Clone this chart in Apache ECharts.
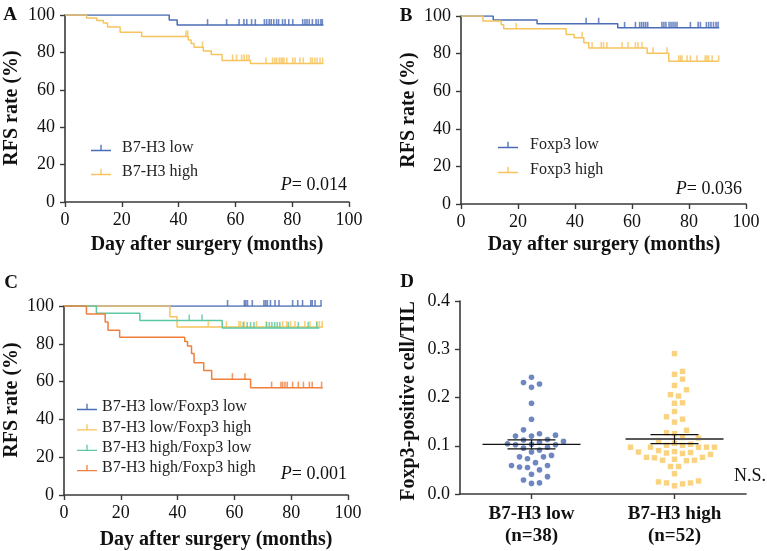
<!DOCTYPE html>
<html><head><meta charset="utf-8">
<script src="https://cdn.jsdelivr.net/npm/echarts@6/dist/echarts.min.js"></script>
<style>html,body{margin:0;padding:0;background:#fff}#c{width:767px;height:551px}</style>
</head><body><div id="c"></div>
<script>
// ---------------- DATA ----------------
const KM_TICKS = [0, 20, 40, 60, 80, 100];
const D_TICKS = [0.0, 0.1, 0.2, 0.3, 0.4];

// Panel A
const A_low_name = 'B7-H3 low', A_high_name = 'B7-H3 high';
const A_low_steps = [[0,100],[36.7,97.3],[39.5,94.6],[91.0,94.6]];
const A_low_cens = [50.2,56.9,61.3,63.0,64.0,65.7,67.0,70.2,71.0,71.9,72.6,73.5,74.5,75.2,76.6,77.5,78.8,80.2,83.7,84.5,85.2,86.0,87.1,88.4,89.2,90.1,90.6];
const A_high_steps = [[0,100],[7.6,98.4],[11.2,97.0],[13.5,95.7],[15.0,93.6],[19.4,90.8],[27.0,88.5],[43.4,86.6],[44.4,84.7],[45.4,82.7],[48.7,80.8],[51.5,78.9],[55.3,75.7],[65.3,74.1],[91.0,74.1]];
const A_high_cens = [42.6,43.2,48.4,59.0,60.4,62.2,63.1,64.0,64.8,70.8,73.1,73.9,74.5,75.4,76.1,76.6,77.1,78.1,80.2,81.0,82.7,83.9,86.5,87.1,88.0,88.8,89.8,90.7];
const A_p = '= 0.014';

// Panel B
const B_low_name = 'Foxp3 low', B_high_name = 'Foxp3 high';
const B_low_steps = [[0,100],[11.3,97.9],[26.7,95.9],[55.0,93.7],[90.6,93.7]];
const B_low_cens = [43.9,48.3,57.4,61.2,62.7,63.4,64.1,64.8,65.5,70.5,71.2,71.9,73.0,73.7,74.4,75.1,75.8,80.5,83.2,84.0,86.1,86.9,87.7,88.6,89.5,90.2];
const B_high_steps = [[0,100],[7.7,97.4],[14.1,95.4],[15.0,93.2],[36.9,90.2],[39.7,88.4],[43.1,85.8],[44.8,83.0],[65.3,80.2],[72.9,75.9],[90.4,75.9]];
const B_high_cens = [19.4,42.5,46.0,49.2,50.0,51.2,56.5,58.6,61.2,62.1,63.5,67.4,72.3,76.4,77.0,77.5,79.3,80.5,82.8,85.7,86.3,86.9,88.1,90.4];
const B_p = '= 0.036';

// Panel C
const C_names = ['B7-H3 low/Foxp3 low','B7-H3 low/Foxp3 high','B7-H3 high/Foxp3 low','B7-H3 high/Foxp3 high'];
const C_ll_steps = [[0,100],[90.7,100]];
const C_ll_cens = [57.6,63.5,64.0,64.6,66.3,70.4,71.0,71.6,72.7,74.3,75.7,80.5,82.3,84.0,86.9,87.4,88.4,90.5];
const C_lh_steps = [[0,100],[37.3,94.3],[39.8,88.9],[91.2,88.9]];
const C_lh_cens = [50.8,57.2,61.6,62.2,63.5,67.8,71.3,77.0,78.4,79.8,81.3,84.8,86.6,89.0,89.9,90.9];
const C_hl_steps = [[0,100],[11.4,96.1],[26.7,92.3],[55.7,88.4],[89.9,88.4]];
const C_hl_cens = [44.1,48.6,63.1,64.5,65.7,66.9,71.3,72.3,73.2,74.2,75.1,76.0,79.0,82.5,86.0,89.0];
const C_hh_steps = [[0,100],[7.9,95.8],[14.5,91.6],[15.5,87.2],[19.6,83.4],[42.5,81.2],[43.5,78.8],[44.9,74.9],[45.8,70.0],[49.2,65.9],[52.0,61.3],[65.7,56.8],[91.1,56.8]];
const C_hh_cens = [59.3,63.7,73.1,76.4,77.0,77.8,78.6,80.5,82.5,84.3,86.4,87.4,90.7];
const C_p = '= 0.001';

// Panel D
const D_categories = ['B7-H3 low\n(n=38)', 'B7-H3 high\n(n=52)'];
const D_low = [0.242,0.228,0.221,0.231,0.188,0.155,0.133,0.125,0.120,0.120,0.122,0.107,0.104,0.102,0.113,0.112,0.102,0.103,0.109,0.095,0.097,0.091,0.087,0.077,0.077,0.080,0.073,0.065,0.059,0.059,0.056,0.050,0.055,0.041,0.036,0.029,0.022,0.023];
const D_high = [0.291,0.254,0.248,0.238,0.225,0.216,0.203,0.206,0.188,0.189,0.171,0.155,0.149,0.160,0.127,0.125,0.132,0.117,0.116,0.105,0.101,0.097,0.097,0.097,0.097,0.097,0.101,0.103,0.111,0.088,0.085,0.082,0.086,0.084,0.087,0.090,0.072,0.069,0.076,0.070,0.070,0.076,0.075,0.057,0.057,0.042,0.025,0.023,0.017,0.021,0.023,0.027];

// ---------------- STYLE ----------------
const SERIF = '"Liberation Serif", "Times New Roman", serif';
const AX = '#3a3a3a';
const BLUE = '#4b6cb7', YELLOW = '#f6c45c', GREEN = '#5ec8a0', ORANGE = '#f07f3c';
const DBLUE = '#4a69b1', DYELLOW = '#f9c861';
const ICON = 'path://M0,5L20,5L20,6.3L0,6.3Z M9.35,0L10.65,0L10.65,5L9.35,5Z';

function survAt(steps, t) {
  let s = steps[0][1];
  for (const p of steps) { if (p[0] <= t) s = p[1]; else break; }
  return s;
}
function km(name, steps, cens, color, gi) {
  return [
    {type:'line', name, xAxisIndex:gi, yAxisIndex:gi, data:steps, step:'end', symbol:'none', showSymbol:false,
     lineStyle:{color, width:1.5}, itemStyle:{color}, silent:true, z:3},
    {type:'scatter', name:name+' (censored)', xAxisIndex:gi, yAxisIndex:gi,
     data:cens.map(t => [t, survAt(steps, t)]), symbol:'rect', symbolSize:[1.6,6], symbolOffset:[0,-3],
     itemStyle:{color}, silent:true, z:4}
  ];
}
function axisCommon(gi) {
  return {gridIndex:gi, axisLine:{show:true, onZero:false, lineStyle:{color:AX, width:1.6}},
    axisTick:{show:true, inside:false, length:5, lineStyle:{color:AX, width:1.4}},
    splitLine:{show:false}};
}
function kmX(gi) {
  return Object.assign(axisCommon(gi), {type:'value', min:KM_TICKS[0], max:KM_TICKS[KM_TICKS.length-1],
    interval:KM_TICKS[1]-KM_TICKS[0],
    axisLabel:{fontFamily:SERIF, fontSize:18, color:'#111', margin:9, showMinLabel:true, showMaxLabel:true}});
}
function kmY(gi) {
  return Object.assign(axisCommon(gi), {type:'value', min:KM_TICKS[0], max:KM_TICKS[KM_TICKS.length-1],
    interval:KM_TICKS[1]-KM_TICKS[0],
    axisLabel:{fontFamily:SERIF, fontSize:18, color:'#111', margin:10, showMinLabel:true, showMaxLabel:true}});
}

// beeswarm layout (pixel-space greedy)
const D_GRID = {left:460, top:301, width:286, height:193};
const pxPerY = D_GRID.height / (D_TICKS[D_TICKS.length-1] - D_TICKS[0]);
const pxPerX = D_GRID.width / 2;
function swarm(vals, center) {
  const placed = [], out = [];
  const order = vals.map((v,i)=>i).sort((a,b)=>vals[a]-vals[b]);
  for (const i of order) {
    const py = vals[i]*pxPerY;
    let best = null;
    for (let k=0; k<60 && best===null; k++) {
      const c = k===0 ? [0] : [k*4, -k*4];
      for (const ox of c) {
        if (placed.every(p => Math.hypot(p.x-ox, p.y-py) >= 7.6)) { best = ox; break; }
      }
    }
    placed.push({x:best, y:py});
    out.push([center + best/pxPerX, vals[i]]);
  }
  return out;
}
function stats(v) {
  const n = v.length, m = v.reduce((a,b)=>a+b,0)/n;
  const sd = Math.sqrt(v.reduce((a,b)=>a+(b-m)*(b-m),0)/(n-1));
  return [m, sd/Math.sqrt(n)];
}
const sLow = stats(D_low), sHigh = stats(D_high);

const series = [
  ...km(A_low_name, A_low_steps, A_low_cens, BLUE, 0),
  ...km(A_high_name, A_high_steps, A_high_cens, YELLOW, 0),
  ...km(B_low_name, B_low_steps, B_low_cens, BLUE, 1),
  ...km(B_high_name, B_high_steps, B_high_cens, YELLOW, 1),
  ...km(C_names[0], C_ll_steps, C_ll_cens, BLUE, 2),
  ...km(C_names[1], C_lh_steps, C_lh_cens, YELLOW, 2),
  ...km(C_names[2], C_hl_steps, C_hl_cens, GREEN, 2),
  ...km(C_names[3], C_hh_steps, C_hh_cens, ORANGE, 2),
  {type:'scatter', name:'D low', xAxisIndex:4, yAxisIndex:3, data:swarm(D_low, 0), symbol:'circle', symbolSize:5.6,
   itemStyle:{color:DBLUE}, silent:true, z:3},
  {type:'scatter', name:'D high', xAxisIndex:4, yAxisIndex:3, data:swarm(D_high, 1), symbol:'rect', symbolSize:5.4,
   itemStyle:{color:DYELLOW}, silent:true, z:3},
  {type:'custom', name:'D mean', xAxisIndex:4, yAxisIndex:3, silent:true, z:5,
   data:[[0, sLow[0], sLow[1], 0], [1, sHigh[0], sHigh[1], 1]],
   renderItem:(params, api) => {
     const c = api.coord([api.value(0), api.value(1)]);
     const t = api.coord([api.value(0), api.value(1)+api.value(2)]);
     const b = api.coord([api.value(0), api.value(1)-api.value(2)]);
     const hi = api.value(3) === 1;
     const ms = {stroke: hi ? '#5a5a5a' : '#111', lineWidth: hi ? 2 : 1.3};
     const es = {stroke:'#111', lineWidth:1.2};
     return {type:'group', children:[
       {type:'line', shape:{x1:c[0]-49, y1:c[1], x2:c[0]+49, y2:c[1]}, style:ms},
       {type:'line', shape:{x1:c[0], y1:t[1], x2:c[0], y2:b[1]}, style:es},
       {type:'line', shape:{x1:c[0]-24, y1:t[1], x2:c[0]+24, y2:t[1]}, style:es},
       {type:'line', shape:{x1:c[0]-24, y1:b[1], x2:c[0]+24, y2:b[1]}, style:es}
     ]};
   }}
];

const legendBase = {orient:'vertical', itemWidth:20, itemHeight:6.3, icon:ICON, selectedMode:false, padding:0,
  itemStyle:{borderWidth:0}, inactiveColor:'#ccc'};
function legend(data, left, top, gap, pad) {
  return Object.assign({}, legendBase, {data, left, top, itemGap:gap,
    textStyle:{fontFamily:SERIF, fontSize:16, color:'#222', lineHeight:18, padding:[0,0,0,pad]}});
}

function txt(text, x, y, size, weight, opts) {
  return Object.assign({type:'text', x, y, silent:true,
    style:{text, fontFamily:SERIF, fontSize:size, fontWeight:weight, fill:'#111', align:'center', verticalAlign:'middle'}}, opts||{});
}
function rtxt(text, x, y, size, weight) {
  return {type:'text', x, y, rotation:Math.PI/2, silent:true,
    style:{text, fontFamily:SERIF, fontSize:size, fontWeight:weight, fill:'#111', align:'center', verticalAlign:'middle'}};
}
function ptxt(p, xr, y) {
  return {type:'text', x:xr, y, silent:true,
    style:{text:'{i|P}' + p, fontFamily:SERIF, fontSize:18, fill:'#111', align:'right', verticalAlign:'middle',
      rich:{i:{fontFamily:SERIF, fontSize:18, fontStyle:'italic', fill:'#111'}}}};
}

const option = {
  backgroundColor:'#fff',
  animation:false,
  grid:[
    {left:65, top:15, width:284, height:187, outerBoundsMode:'none'},
    {left:461, top:16, width:285, height:188, outerBoundsMode:'none'},
    {left:64, top:306, width:284, height:189, outerBoundsMode:'none'},
    Object.assign({outerBoundsMode:'none'}, D_GRID)
  ],
  xAxis:[kmX(0), kmX(1), kmX(2),
    Object.assign(axisCommon(3), {type:'category', data:D_categories,
      axisTick:{show:true, alignWithLabel:true, length:5, lineStyle:{color:AX, width:1.4}},
      axisLabel:{fontFamily:SERIF, fontSize:19, fontWeight:'bold', color:'#111', margin:9, lineHeight:22, interval:0}}),
    {type:'value', gridIndex:3, min:-0.5, max:1.5, show:false}
  ],
  yAxis:[kmY(0), kmY(1), kmY(2),
    Object.assign(axisCommon(3), {type:'value', min:D_TICKS[0], max:D_TICKS[D_TICKS.length-1],
      interval:D_TICKS[1]-D_TICKS[0],
      axisLabel:{fontFamily:SERIF, fontSize:18, color:'#111', margin:10, formatter:v => v.toFixed(1)}})
  ],
  legend:[
    legend([A_low_name, A_high_name], 91, 139, 6, 6),
    legend([B_low_name, B_high_name], 498, 136, 7, 7),
    legend(C_names, 77, 398, 2.4, 0)
  ],
  series,
  graphic:[
    txt('A', 10, 15, 19, 'bold'),
    txt('B', 406, 16, 19, 'bold'),
    txt('C', 11, 283, 19, 'bold'),
    txt('D', 407, 282, 19, 'bold'),
    rtxt('RFS rate (%)', 12, 108, 20, 'bold'),
    rtxt('RFS rate (%)', 409, 110, 20, 'bold'),
    rtxt('RFS rate (%)', 12, 400, 20, 'bold'),
    rtxt('Foxp3-positive cell/TIL', 409, 401, 20, 'bold'),
    txt('Day after surgery (months)', 207, 245, 20, 'bold'),
    txt('Day after surgery (months)', 604, 245, 20, 'bold'),
    txt('Day after surgery (months)', 216, 540, 20, 'bold'),
    ptxt(A_p, 347, 185),
    ptxt(B_p, 742, 189),
    ptxt(C_p, 347, 474),
    txt('N.S.', 750, 476, 18, 'normal')
  ]
};
const chart = echarts.init(document.getElementById('c'), null, {renderer:'canvas'});
chart.setOption(option);
</script></body></html>
